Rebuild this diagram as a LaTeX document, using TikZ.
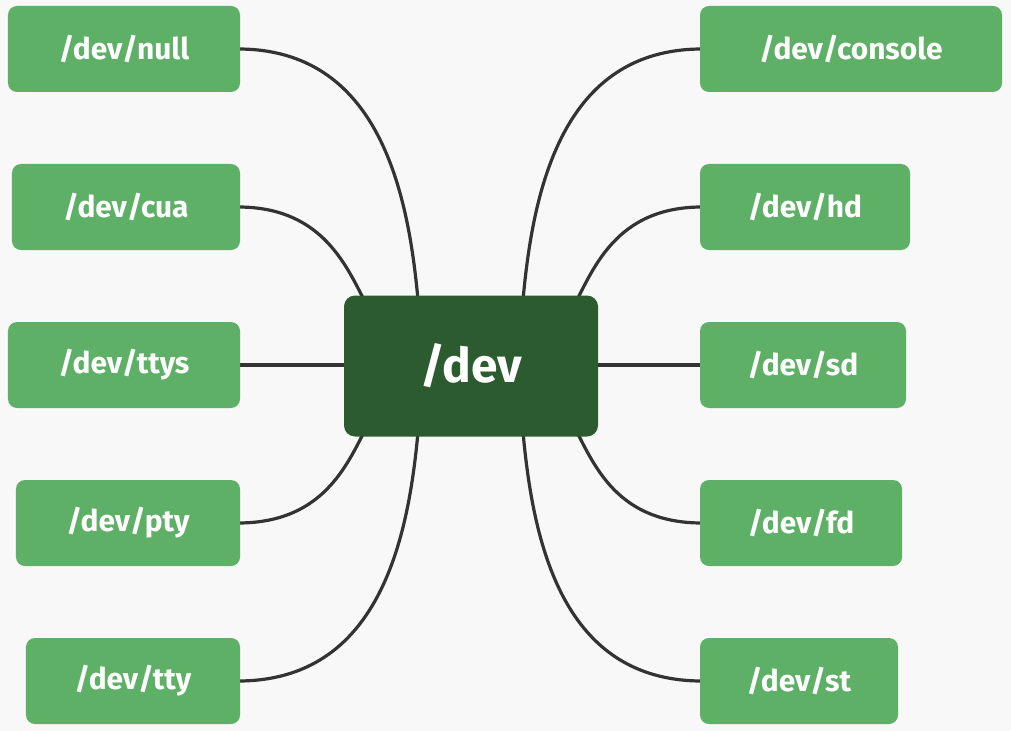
\documentclass[tikz,border=0pt]{standalone}
\usepackage{fontspec}
\setmainfont{Fira Sans}
\begin{document}
\begin{tikzpicture}[x=1bp,y=-1bp,
  leaf/.style={fill=lg,rounded corners=9bp,text=white,font=\fontsize{30}{36}\selectfont\bfseries,inner sep=0pt},
  link/.style={draw=lk,line width=3.2bp}]
\definecolor{lg}{HTML}{5DB066}
\definecolor{dg}{HTML}{2B5B2F}
\definecolor{lk}{HTML}{333333}
\definecolor{bg}{HTML}{F8F8F8}
\fill[bg] (0,0) rectangle (1011,731);
\useasboundingbox (0,0) rectangle (1011,731);
% links first
\coordinate (tl1) at (418,300); \coordinate (tl2) at (364,300);
\coordinate (tr1) at (523,300); \coordinate (tr2) at (577,300);
\coordinate (bl1) at (418,432); \coordinate (bl2) at (364,432);
\coordinate (br1) at (523,432); \coordinate (br2) at (577,432);
\coordinate (ml) at (348,365); \coordinate (mr) at (594,365);
\coordinate (a1) at (238,49); \coordinate (a2) at (238,207); \coordinate (a3) at (238,365); \coordinate (a4) at (238,523); \coordinate (a5) at (238,681);
\coordinate (b1) at (702,49); \coordinate (b2) at (702,207); \coordinate (b3) at (702,365); \coordinate (b4) at (702,523); \coordinate (b5) at (702,681);
\draw[link] (a1) .. controls +(140,0) and +(-10,-110) .. (tl1);
\draw[link] (a2) .. controls +(80,0) and +(-20,-40) .. (tl2);
\draw[link] (a3) -- (ml);
\draw[link] (a4) .. controls +(80,0) and +(-20,40) .. (bl2);
\draw[link] (a5) .. controls +(140,0) and +(-10,110) .. (bl1);
\draw[link] (b1) .. controls +(-140,0) and +(10,-110) .. (tr1);
\draw[link] (b2) .. controls +(-80,0) and +(20,-40) .. (tr2);
\draw[link] (b3) -- (mr);
\draw[link] (b4) .. controls +(-80,0) and +(20,40) .. (br2);
\draw[link] (b5) .. controls +(-140,0) and +(10,110) .. (br1);
% nodes
\node[fill=dg,rounded corners=11bp,text=white,font=\fontsize{48}{56}\selectfont\bfseries,minimum width=254bp,minimum height=141bp] (dev) at (471,366) {/dev};
\node[leaf,minimum width=232bp,minimum height=86bp] (null) at (124,49) {/dev/null};
\node[leaf,minimum width=228bp,minimum height=86bp] (cua) at (126,207) {/dev/cua};
\node[leaf,minimum width=232bp,minimum height=86bp] (ttys) at (124,365) {/dev/ttys};
\node[leaf,minimum width=224bp,minimum height=86bp] (pty) at (128,523) {/dev/pty};
\node[leaf,minimum width=214bp,minimum height=86bp] (tty) at (133,681) {/dev/tty};
\node[leaf,minimum width=302bp,minimum height=86bp] (console) at (851,49) {/dev/console};
\node[leaf,minimum width=210bp,minimum height=86bp] (hd) at (805,207) {/dev/hd};
\node[leaf,minimum width=206bp,minimum height=86bp] (sd) at (803,365) {/dev/sd};
\node[leaf,minimum width=202bp,minimum height=86bp] (fd) at (801,523) {/dev/fd};
\node[leaf,minimum width=198bp,minimum height=86bp] (st) at (799,681) {/dev/st};
\end{tikzpicture}
\end{document}
